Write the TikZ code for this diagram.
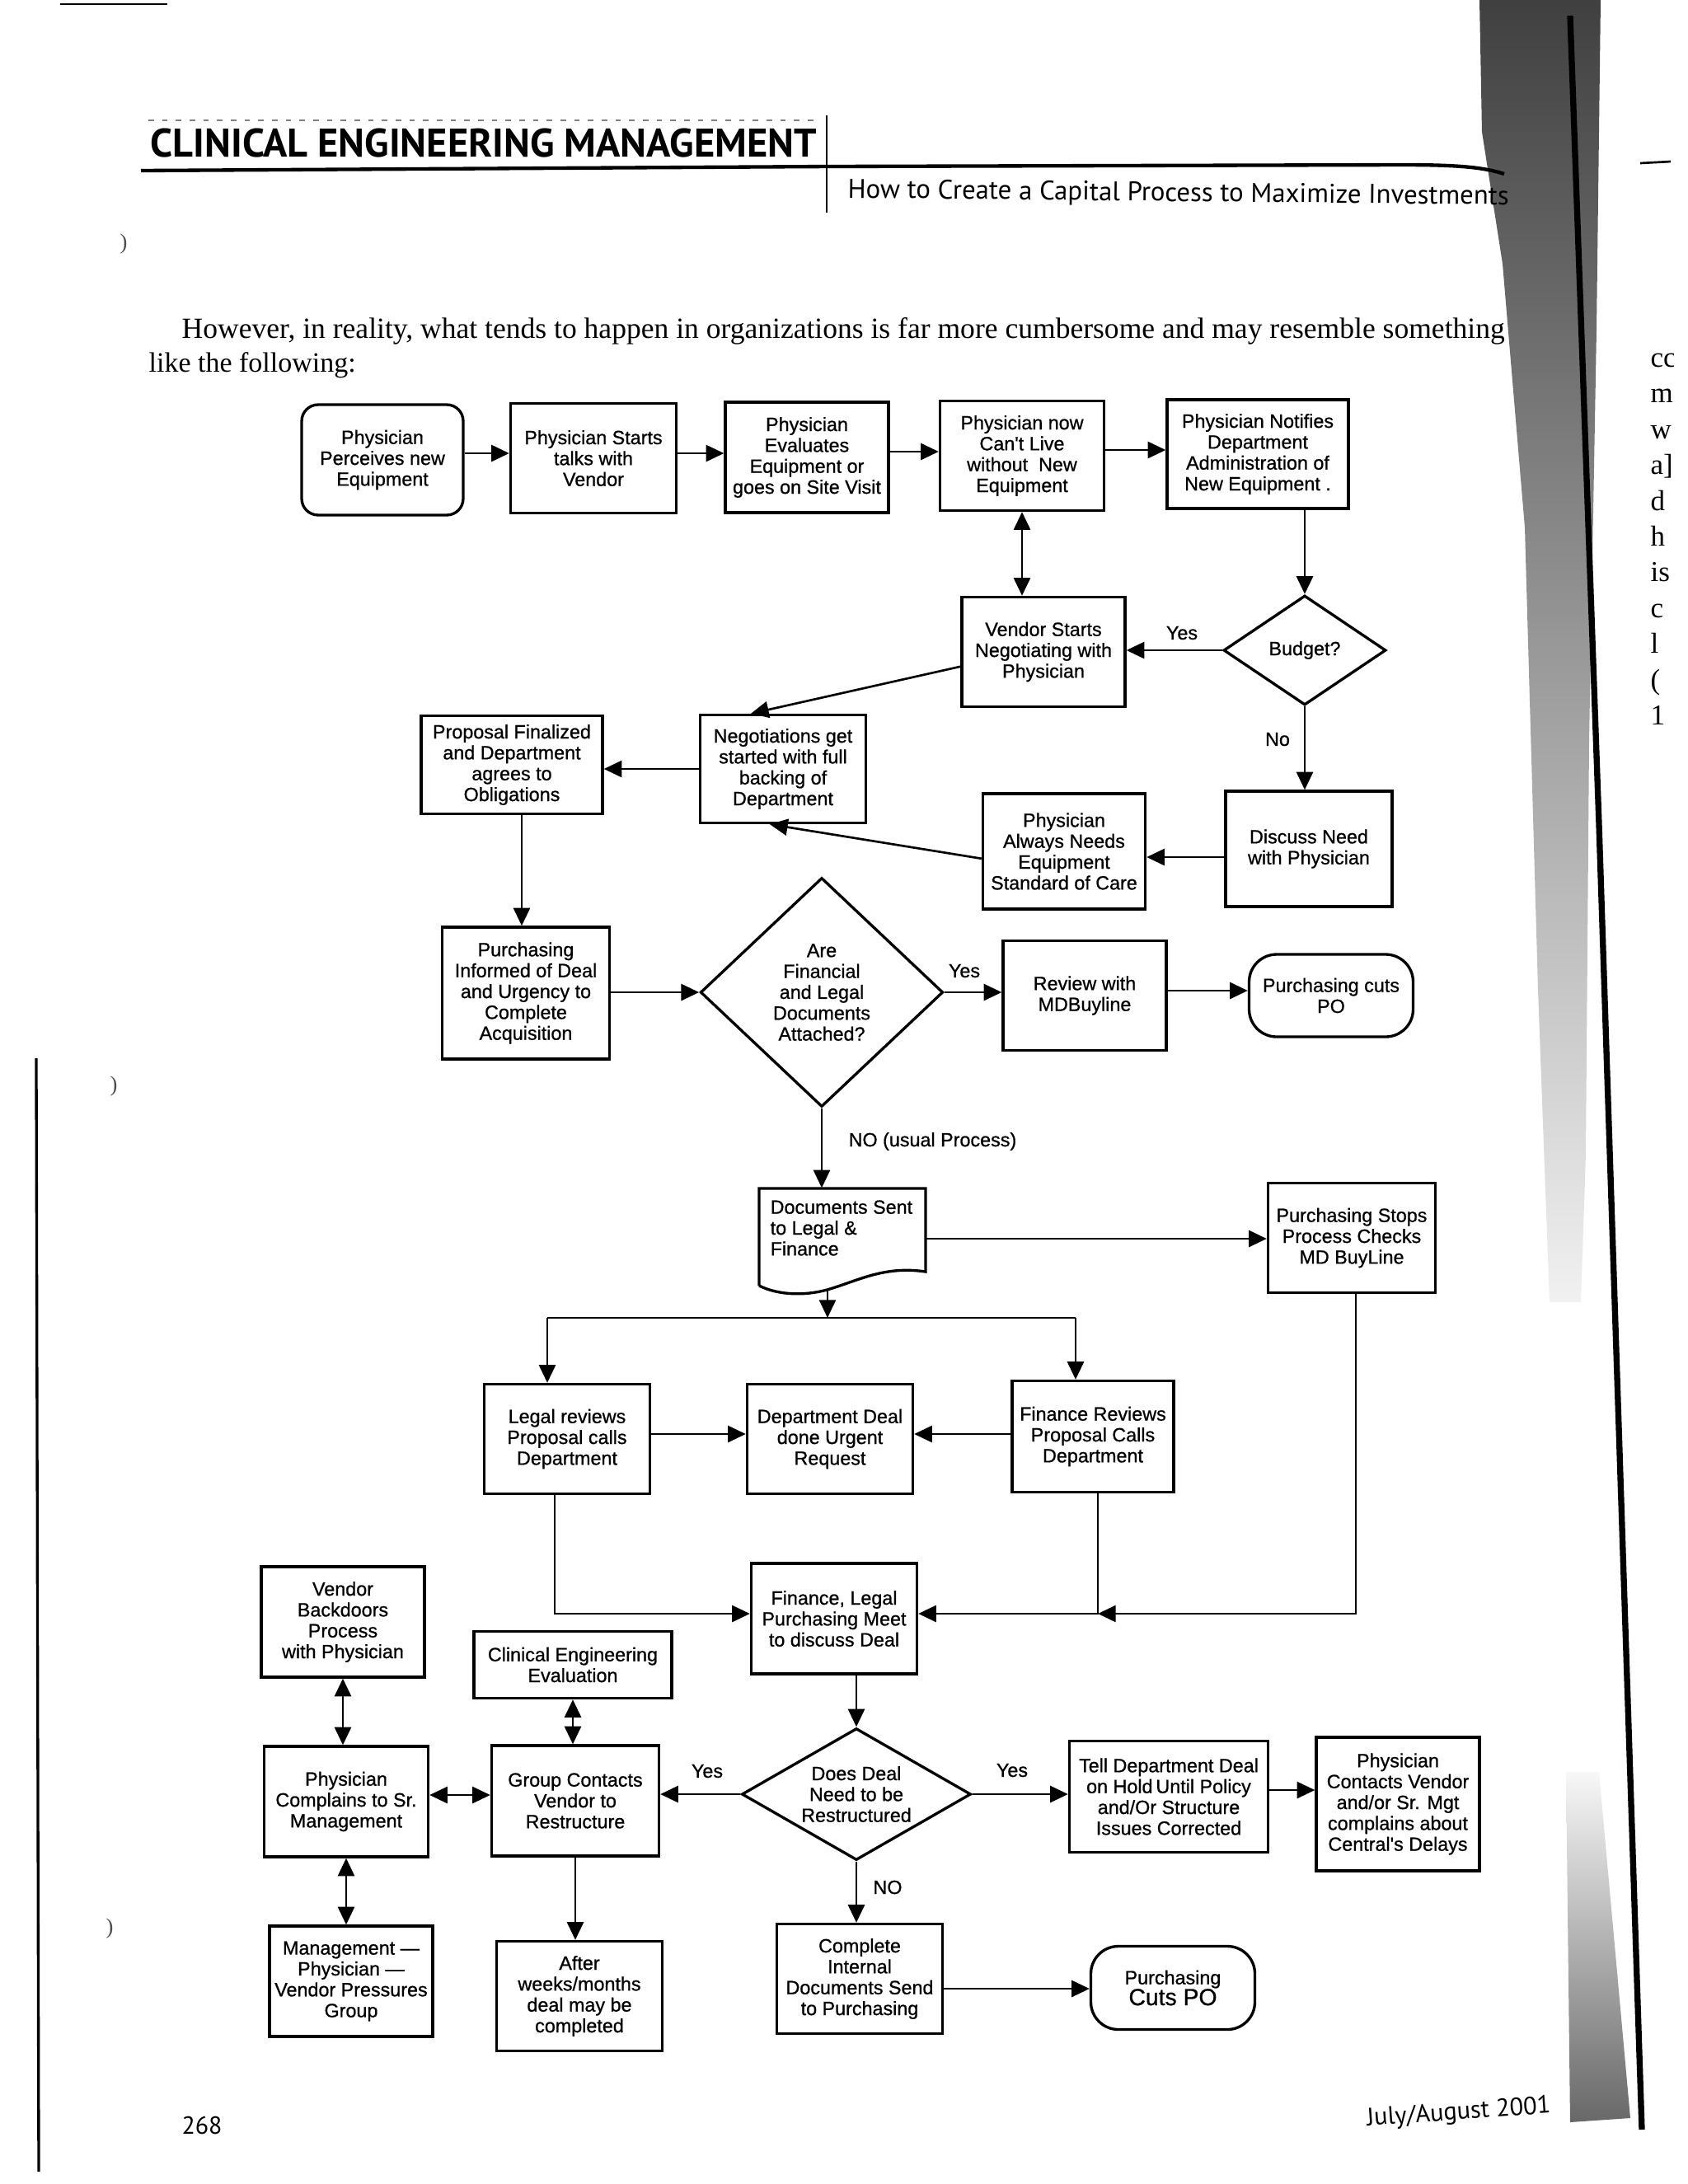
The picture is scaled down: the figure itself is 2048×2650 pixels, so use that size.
\documentclass[tikz,border=0pt]{standalone}
\usepackage{fontspec}
\usepackage{graphicx}
\setmainfont{Liberation Serif}
\newfontfamily\flowfont[FakeBold=0.8]{Liberation Sans}
\newfontfamily\headfont{PT Sans}
\usetikzlibrary{arrows.meta,shapes.geometric}
\begin{document}
\begin{tikzpicture}[x=0.3pt,y=-0.3pt,
  pbox/.style={draw, line width=1pt, rectangle, align=center, inner sep=1pt,
    font=\flowfont\fontsize{7}{7.6}\selectfont},
  sz/.style 2 args={minimum width=#1*0.3pt, minimum height=#2*0.3pt},
  rbox/.style={pbox, rounded corners=6pt},
  term/.style={pbox, rounded corners=10pt},
  dec/.style={draw, line width=1pt, diamond, aspect=1.5, inner sep=0pt, align=center,
    font=\flowfont\fontsize{7}{7.6}\selectfont},
  conn/.style={line width=0.8pt, -{Triangle[length=6.5pt,width=6pt]}},
  dconn/.style={line width=0.8pt, {Triangle[length=6.5pt,width=6pt]}-{Triangle[length=6.5pt,width=6pt]}},
  plain/.style={line width=0.8pt},
  lbl/.style={font=\flowfont\fontsize{7}{7.6}\selectfont, inner sep=0pt},
  margintxt/.style={anchor=base west, inner sep=0pt, font=\fontsize{10.5}{12}\selectfont},
  holemark/.style={inner sep=0pt, font=\fontsize{8}{9}\selectfont, text=black!70}
]
\useasboundingbox (0,0) rectangle (2048,2650);
\fill[white] (0,0) rectangle (2048,2650);

% ---------- scan artefacts / page edges ----------
\begin{scope}
\clip (1795,0) -- (1942,0) -- (1937,400) -- (1928,900) -- (1924,1400) -- (1918,1580)
  -- (1880,1580) -- (1866,1200) -- (1850,640) -- (1823,320) -- (1798,160) -- cycle;
\shade[top color=black!75, bottom color=black!5] (1790,0) rectangle (1950,1590);
\end{scope}
\begin{scope}
\clip (1900,2150) -- (1940,2150) -- (1978,2570) -- (1905,2575) -- cycle;
\shade[top color=black!3, bottom color=black!60] (1890,2150) rectangle (1990,2580);
\end{scope}
\draw[line width=2.2pt] (1905,19) -- (1940,1000) -- (1992,2584);
\draw[line width=0.8pt] (1990,198) -- (2027,196);
\draw[line width=0.8pt] (73,5) -- (203,5);
\draw[line width=1pt] (44,1284) -- (47,2635);

% ---------- header ----------
\draw[gray, line width=0.8pt, dash pattern=on 2pt off 3pt] (180,146) -- (990,146);
\draw[line width=1.3pt] (171,207) -- (1006,202) -- (1700,200) .. controls (1770,200) and (1800,203) .. (1825,211);
\draw[line width=0.6pt] (1003,140) -- (1003,258);
\node[anchor=west, inner sep=0pt] (title) at (182,174)
  {\resizebox{242.4pt}{!}{\headfont\bfseries CLINICAL ENGINEERING MANAGEMENT}};
\node[anchor=base west, inner sep=0pt, rotate=-0.6] (subtitle) at (1028,240)
  {\resizebox{240.6pt}{!}{\headfont How to Create a Capital Process to Maximize Investments}};

% ---------- body text ----------
\node[margintxt] (body1) at (220,410) {\resizebox{481.5pt}{!}{However, in reality, what tends to happen in organizations is far more cumbersome and may resemble something}};
\node[margintxt] (body2) at (180,451) {\resizebox{75.3pt}{!}{like the following:}};

\begin{scope}
\clip (1995,400) rectangle (2030,920);
\node[margintxt] (mg1) at (2002,445) {cc};
\node[margintxt] (mg2) at (2002,488) {m};
\node[margintxt] (mg3) at (2002,532) {w};
\node[margintxt] (mg4) at (2002,575) {a\char93};
\node[margintxt] (mg5) at (2002,619) {d};
\node[margintxt] (mg6) at (2002,662) {h};
\node[margintxt] (mg7) at (2002,705) {is};
\node[margintxt] (mg8) at (2002,749) {c};
\node[margintxt] (mg9) at (2002,792) {l};
\node[margintxt] (mg10) at (2002,836) {\char40};
\node[margintxt] (mg11) at (2002,879) {1};
\end{scope}
\node[holemark] (p1) at (150,296) {\char41};
\node[holemark] (p2) at (138,1318) {\char41};
\node[holemark] (p3) at (133,2340) {\char41};

% ---------- footer ----------
\node[inner sep=0pt] (pg) at (245,2579) {\resizebox{14.7pt}{!}{\headfont 268}};
\node[inner sep=0pt, rotate=4] (date) at (1770,2564) {\resizebox{67pt}{!}{\headfont July/August 2001}};

% ---------- flowchart nodes ----------
\node[rbox, sz={196}{134}] (n1) at (464,558) {Physician\\Perceives new\\Equipment};
\node[pbox, sz={201}{133}] (n2) at (720,556) {Physician Starts\\talks with\\Vendor};
\node[pbox, sz={198}{134}] (n3) at (979,555) {Physician\\Evaluates\\Equipment or\\goes on Site Visit};
\node[pbox, sz={199}{133}] (n4) at (1240,553) {Physician now\\Can't Live\\without~ New\\Equipment};
\node[pbox, sz={220}{132}] (n5) at (1526,551) {Physician Notifies\\Department\\Administration of\\New Equipment .};
\node[pbox, sz={198}{133}] (n6) at (1266,791) {Vendor Starts\\Negotiating with\\Physician};
\node[dec, sz={197}{133}] (d1) at (1583,789) {Budget?};
\node[pbox, sz={202}{140}] (n7) at (1588,1030) {Discuss Need\\with Physician};
\node[pbox, sz={197}{140}] (n8) at (1291,1033) {Physician\\Always Needs\\Equipment\\Standard of Care};
\node[pbox, sz={201}{131}] (n9) at (950,933) {Negotiations get\\started with full\\backing of\\Department};
\node[pbox, sz={220}{119}] (n10) at (621,928) {Proposal Finalized\\and Department\\agrees to\\Obligations};
\node[pbox, sz={203}{160}] (n11) at (638,1205) {Purchasing\\Informed of Deal\\and Urgency to\\Complete\\Acquisition};
\node[dec, sz={280}{278}] (d2) at (997,1204) {Are\\Financial\\and Legal\\Documents\\Attached?};
\node[pbox, sz={198}{133}] (n12) at (1316,1208) {Review with\\MDBuyline};
\node[term, sz={199}{100}] (t1) at (1615,1208) {Purchasing cuts\\PO};

\node[rectangle, inner sep=0pt, sz={202}{122}] (n13) at (1022,1503) {};
\draw[line width=1pt] (921,1560) -- (921,1442) -- (1123,1442) -- (1123,1543)
  .. controls (1075,1536) and (1045,1552) .. (1010,1563)
  .. controls (980,1573) and (945,1572) .. (921,1560);
\node[lbl, anchor=west, align=left] (n13t) at (934,1490) {Documents Sent\\to Legal \&\\Finance};

\node[pbox, sz={203}{133}] (n15) at (1640,1502) {Purchasing Stops\\Process Checks\\MD BuyLine};
\node[pbox, sz={201}{133}] (n14) at (688,1746) {Legal reviews\\Proposal calls\\Department};
\node[pbox, sz={201}{133}] (n16) at (1007,1746) {Department Deal\\done Urgent\\Request};
\node[pbox, sz={196}{135}] (n17) at (1326,1743) {Finance Reviews\\Proposal Calls\\Department};
\node[pbox, sz={201}{134}] (n18) at (1012,1964) {Finance, Legal\\Purchasing Meet\\to discuss Deal};
\node[pbox, sz={198}{134}] (n19) at (416,1968) {Vendor\\Backdoors\\Process\\with Physician};
\node[pbox, sz={240}{81}] (n20) at (695,2020) {Clinical Engineering\\Evaluation};
\node[pbox, sz={199}{134}] (n21) at (420,2186) {Physician\\Complains to Sr.\\Management};
\node[pbox, sz={203}{134}] (n22) at (698,2185) {Group Contacts\\Vendor to\\Restructure};
\node[dec, sz={278}{160}] (d3) at (1039,2177) {Does Deal\\Need to be\\Restructured};
\node[pbox, sz={241}{135}] (n23) at (1418,2180) {Tell Department Deal\\on Hold\,Until Policy\\and/Or Structure\\Issues Corrected};
\node[pbox, sz={198}{162}] (n24) at (1696,2189) {Physician\\Contacts Vendor\\and/or Sr. Mgt\\complains about\\Central's Delays};
\node[pbox, sz={198}{134}] (n25) at (426,2404) {Management —\\Physician —\\Vendor Pressures\\Group};
\node[pbox, sz={201}{133}] (n26) at (703,2422) {After\\weeks/months\\deal may be\\completed};
\node[pbox, sz={201}{133}] (n27) at (1043,2401) {Complete\\Internal\\Documents Send\\to Purchasing};
\node[term, sz={199}{101}] (t2) at (1423,2412) {Purchasing\\{\fontsize{8.5}{9.5}\selectfont Cuts PO}};

% ---------- labels ----------
\node[lbl] (yes1) at (1434,768) {Yes};
\node[lbl] (no1) at (1550,897) {No};
\node[lbl] (yes2) at (1170,1178) {Yes};
\node[lbl, anchor=west] (no2) at (1029,1385) {NO (usual Process)};
\node[lbl] (yes3) at (858,2149) {Yes};
\node[lbl] (yes4) at (1228,2148) {Yes};
\node[lbl] (no3) at (1077,2290) {NO};

% ---------- connectors ----------
\draw[conn] (n1.east |- 0,550) -- (n2.west |- 0,550);
\draw[conn] (n2.east |- 0,550) -- (n3.west |- 0,550);
\draw[conn] (n3.east |- 0,548) -- (n4.west |- 0,548);
\draw[conn] (n4.east |- 0,546) -- (n5.west |- 0,546);
\draw[dconn] (n4.south) -- (n4.south |- n6.north);
\draw[conn] (n5.south -| d1.north) -- (d1.north);
\draw[conn] (d1.west) -- (d1.west -| n6.east);
\draw[conn] (d1.south) -- (d1.south |- n7.north);
\draw[conn] (n7.west |- 0,1040) -- (n8.east |- 0,1040);
\draw[conn] (n6.190) -- (911,0 |- n9.north);
\draw[conn] (n8.185) -- (934,0 |- n9.south);
\draw[conn] (n9.west) -- (n9.west -| n10.east);
\draw[conn] (633,0 |- n10.south) -- (633,0 |- n11.north);
\draw[conn] (n11.east |- 0,1204) -- (d2.west);
\draw[conn] (d2.east) -- (d2.east -| n12.west);
\draw[conn] (n12.east |- 0,1202) -- (t1.west |- 0,1202);
\draw[conn] (d2.south) -- (d2.south |- n13.north);
\draw[conn] (n13.east) -- (n13.east -| n15.west);
\coordinate (j1) at (1004,1599);
\coordinate (jl) at (664,1599);
\coordinate (jr) at (1305,1599);
\draw[conn] (n13.south -| j1) -- (j1);
\draw[plain] (jl) -- (jr);
\draw[conn] (jl) -- (jl |- n14.north);
\draw[conn] (jr) -- (jr |- n17.north);
\draw[conn] (n14.east |- 0,1740) -- (n16.west |- 0,1740);
\draw[conn] (n17.west |- 0,1740) -- (n16.east |- 0,1740);
\coordinate (m1) at (673,1958);
\coordinate (m2) at (1332,1958);
\coordinate (m3) at (1645,1958);
\draw[conn] (m1 |- n14.south) -- (m1) -- (m1 -| n18.west);
\draw[conn] (m2 |- n17.south) -- (m2) -- (m2 -| n18.east);
\draw[conn] (m3 |- n15.south) -- (m3) -- (m2);
\draw[conn] (d3.north |- n18.south) -- (d3.north);
\draw[conn] (d3.west) -- (d3.west -| n22.east);
\draw[conn] (d3.east) -- (d3.east -| n23.west);
\draw[conn] (n23.east |- 0,2172) -- (n24.west |- 0,2172);
\draw[conn] (d3.south) -- (d3.south |- n27.north);
\draw[conn] (n27.east |- 0,2413) -- (t2.west |- 0,2413);
\draw[dconn] (n19.south) -- (n19.south |- n21.north);
\draw[dconn] (n20.south) -- (n20.south |- n22.north);
\draw[dconn] (n22.west |- 0,2178) -- (n21.east |- 0,2178);
\draw[dconn] (n21.south) -- (n21.south |- n25.north);
\draw[conn] (n22.south) -- (n22.south |- n26.north);
\end{tikzpicture}
\end{document}
